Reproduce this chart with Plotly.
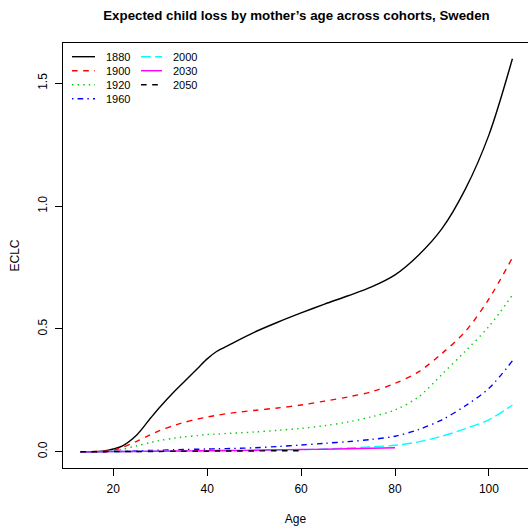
import plotly.graph_objects as go

# ---- data ----
ages = [13, 15, 18, 20, 22, 25, 28, 30, 33, 35, 38, 40, 42, 45, 50, 55, 60, 65, 70, 75, 80, 85, 90, 95, 100, 105]

cohort_names = ["1880", "1900", "1920", "1960", "2000", "2030", "2050"]

eclc_1880 = [0, 0, 0.003, 0.011, 0.024, 0.068, 0.138, 0.183, 0.245, 0.283, 0.34, 0.378, 0.408, 0.438,
             0.486, 0.527, 0.565, 0.601, 0.635, 0.671, 0.72, 0.8, 0.908, 1.07, 1.29, 1.6]
eclc_1900 = [0, 0, 0.002, 0.006, 0.018, 0.042, 0.07, 0.087, 0.107, 0.119, 0.133, 0.141, 0.148, 0.157,
             0.168, 0.178, 0.19, 0.206, 0.223, 0.244, 0.278, 0.325, 0.4, 0.49, 0.622, 0.79]
eclc_1920 = [0, 0, 0.001, 0.004, 0.01, 0.024, 0.038, 0.046, 0.055, 0.06, 0.066, 0.07, 0.072, 0.075,
             0.08, 0.087, 0.095, 0.106, 0.121, 0.142, 0.17, 0.223, 0.315, 0.41, 0.51, 0.638]
eclc_1960 = [0, 0, 0, 0.001, 0.001, 0.003, 0.005, 0.006, 0.008, 0.009, 0.01, 0.011, 0.012, 0.013,
             0.016, 0.021, 0.027, 0.034, 0.041, 0.05, 0.063, 0.09, 0.13, 0.187, 0.258, 0.37]
eclc_2000 = [0, 0, 0, 0.001, 0.001, 0.001, 0.002, 0.002, 0.002, 0.003, 0.003, 0.003, 0.004, 0.004,
             0.005, 0.007, 0.008, 0.011, 0.015, 0.02, 0.026, 0.04, 0.063, 0.094, 0.13, 0.19]
eclc_2030 = [0, 0, 0, 0.001, 0.001, 0.001, 0.002, 0.002, 0.003, 0.003, 0.004, 0.004, 0.005, 0.005,
             0.006, 0.008, 0.009, 0.01, 0.012, 0.014, 0.016, None, None, None, None, None]
eclc_2050 = [0, 0, 0, 0.001, 0.001, 0.001, 0.001, 0.001, 0.002, 0.002, 0.002, 0.002, 0.003, 0.003,
             0.003, 0.004, 0.004, None, None, None, None, None, None, None, None, None]

series_values = [eclc_1880, eclc_1900, eclc_1920, eclc_1960, eclc_2000, eclc_2030, eclc_2050]

x_ticks = [20, 40, 60, 80, 100]
y_ticks = [0.0, 0.5, 1.0, 1.5]
y_tick_labels = ["0.0", "0.5", "1.0", "1.5"]

# ---- styles ----
colors = ["#000000", "#FF0000", "#00CD00", "#0000FF", "#00FFFF", "#FF00FF", "#000000"]
dashes = ["solid", "5.6px,5.6px", "1.4px,4.2px", "1.4px,4.2px,5.6px,4.2px", "9.8px,4.2px", "solid", "5.6px,5.6px"]
LW = 1.4
FONT = "Liberation Sans, Arial, Helvetica, sans-serif"

W, H = 528, 529
ML, MR, MT, MB = 63, 0, 43, 61
PW, PH = W - ML - MR, H - MT - MB

fig = go.Figure()
for name, vals, c, d in zip(cohort_names, series_values, colors, dashes):
    fig.add_trace(go.Scatter(x=ages, y=vals, mode="lines", name=name,
                             line=dict(color=c, dash=d, width=LW, shape="spline", smoothing=0.9),
                             showlegend=False, connectgaps=False))

# ---- manual legend (R-style, no box, column-major 4 + 3) ----
def px2paper(px, py):
    return (px - ML) / PW, (H - MB - py) / PH

rows_y = [56.7, 70.7, 84.7, 98.7]
col_line = [(72, 95, 104), (141, 162, 171)]
for i, (name, c, d) in enumerate(zip(cohort_names, colors, dashes)):
    col, row = (0, i) if i < 4 else (1, i - 4)
    x0, x1, xt = col_line[col]
    py = rows_y[row]
    a0, b0 = px2paper(x0, py)
    a1, _ = px2paper(x1, py)
    at, _ = px2paper(xt, py)
    fig.add_shape(type="line", xref="paper", yref="paper", x0=a0, x1=a1, y0=b0, y1=b0,
                  line=dict(color=c, dash=d, width=LW))
    fig.add_annotation(xref="paper", yref="paper", x=at, y=b0, text=name, showarrow=False,
                       xanchor="left", yanchor="middle", font=dict(family=FONT, size=11, color="black"))

fig.update_layout(
    width=W, height=H,
    margin=dict(l=ML, r=MR, t=MT, b=MB, pad=0),
    paper_bgcolor="white", plot_bgcolor="white",
    title=dict(text="<b>Expected child loss by mother’s age across cohorts, Sweden</b>",
               x=296.5 / W, xref="container", xanchor="center",
               y=1 - 15 / H, yref="container", yanchor="middle",
               font=dict(family=FONT, size=13.3, color="black")),
    font=dict(family=FONT, size=12, color="black"),
)

fig.update_xaxes(range=[9.3, 9.3 + PW / 4.696], showgrid=False, zeroline=False,
                 showline=True, linecolor="black", linewidth=1, mirror=True,
                 ticks="outside", ticklen=7, tickwidth=1, tickcolor="black",
                 tickvals=x_ticks, tickfont=dict(family=FONT, size=12, color="black"),
                 ticklabelstandoff=3,
                 title=dict(text="Age", standoff=19, font=dict(family=FONT, size=12, color="black")),
                 automargin=False)
fig.update_yaxes(range=[-0.0664, -0.0664 + PH / 245.6], showgrid=False, zeroline=False,
                 showline=True, linecolor="black", linewidth=1, mirror=False,
                 ticks="outside", ticklen=7, tickwidth=1, tickcolor="black",
                 tickvals=y_ticks, ticktext=y_tick_labels, tickangle=-90,
                 tickfont=dict(family=FONT, size=12, color="black"),
                 ticklabelstandoff=3,
                 title=dict(text="ECLC", standoff=14, font=dict(family=FONT, size=12, color="black")),
                 automargin=False)

fig.write_html("out.html")
